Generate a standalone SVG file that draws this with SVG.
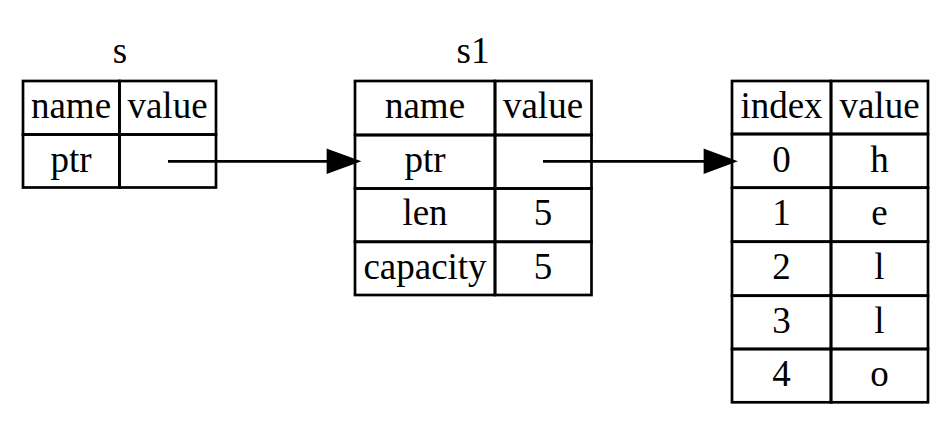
<svg xmlns="http://www.w3.org/2000/svg" width="952" height="441" viewBox="0 0 952 441">
<style>
  .cell { fill: none; stroke: #000; stroke-width: 2.7; }
  .t { font-family: "Liberation Serif", "Times New Roman", serif; font-size: 37px; fill: #000; text-anchor: middle; }
  .edge { stroke: #000; stroke-width: 2.7; fill: none; }
  .head { fill: #000; stroke: #000; stroke-width: 2.7; }
</style>
<rect width="952" height="441" fill="#fff"/>
<g id="s">
  <text class="t" x="120" y="63">s</text>
  <rect class="cell" x="23" y="81" width="96.5" height="53.5"/>
  <rect class="cell" x="119.5" y="81" width="96.5" height="53.5"/>
  <rect class="cell" x="23" y="134.5" width="96.5" height="53"/>
  <rect class="cell" x="119.5" y="134.5" width="96.5" height="53"/>
  <text class="t" x="71" y="118">name</text>
  <text class="t" x="167.5" y="118">value</text>
  <text class="t" x="71" y="171.5">ptr</text>
</g>
<g id="s1">
  <text class="t" x="473" y="63">s1</text>
  <rect class="cell" x="355" y="81" width="140" height="54"/>
  <rect class="cell" x="495" y="81" width="96.5" height="54"/>
  <rect class="cell" x="355" y="135" width="140" height="53.5"/>
  <rect class="cell" x="495" y="135" width="96.5" height="53.5"/>
  <rect class="cell" x="355" y="188.5" width="140" height="53.3"/>
  <rect class="cell" x="495" y="188.5" width="96.5" height="53.3"/>
  <rect class="cell" x="355" y="241.8" width="140" height="53.2"/>
  <rect class="cell" x="495" y="241.8" width="96.5" height="53.2"/>
  <text class="t" x="425" y="118">name</text>
  <text class="t" x="543" y="118">value</text>
  <text class="t" x="425" y="172">ptr</text>
  <text class="t" x="425" y="225">len</text>
  <text class="t" x="543" y="225">5</text>
  <text class="t" x="425" y="279">capacity</text>
  <text class="t" x="543" y="279">5</text>
</g>
<g id="heap">
  <rect class="cell" x="732" y="81" width="99" height="53"/>
  <rect class="cell" x="831" y="81" width="97" height="53"/>
  <rect class="cell" x="732" y="134" width="99" height="53.7"/>
  <rect class="cell" x="831" y="134" width="97" height="53.7"/>
  <rect class="cell" x="732" y="187.7" width="99" height="54"/>
  <rect class="cell" x="831" y="187.7" width="97" height="54"/>
  <rect class="cell" x="732" y="241.7" width="99" height="54"/>
  <rect class="cell" x="831" y="241.7" width="97" height="54"/>
  <rect class="cell" x="732" y="295.7" width="99" height="53.3"/>
  <rect class="cell" x="831" y="295.7" width="97" height="53.3"/>
  <rect class="cell" x="732" y="349" width="99" height="53.3"/>
  <rect class="cell" x="831" y="349" width="97" height="53.3"/>
  <text class="t" x="781.5" y="118">index</text>
  <text class="t" x="879.5" y="118">value</text>
  <text class="t" x="781.5" y="171.5">0</text>
  <text class="t" x="879.5" y="171.5">h</text>
  <text class="t" x="781.5" y="225">1</text>
  <text class="t" x="879.5" y="225">e</text>
  <text class="t" x="781.5" y="279">2</text>
  <text class="t" x="879.5" y="279">l</text>
  <text class="t" x="781.5" y="333">3</text>
  <text class="t" x="879.5" y="333">l</text>
  <text class="t" x="781.5" y="386">4</text>
  <text class="t" x="879.5" y="386">o</text>
</g>
<g id="edges">
  <path class="edge" d="M168,161.3 L328,161.3"/>
  <polygon class="head" points="328,150.5 357.5,161.3 328,172"/>
  <path class="edge" d="M543,161.3 L705,161.3"/>
  <polygon class="head" points="705,150.5 734,161.3 705,172"/>
</g>
</svg>
